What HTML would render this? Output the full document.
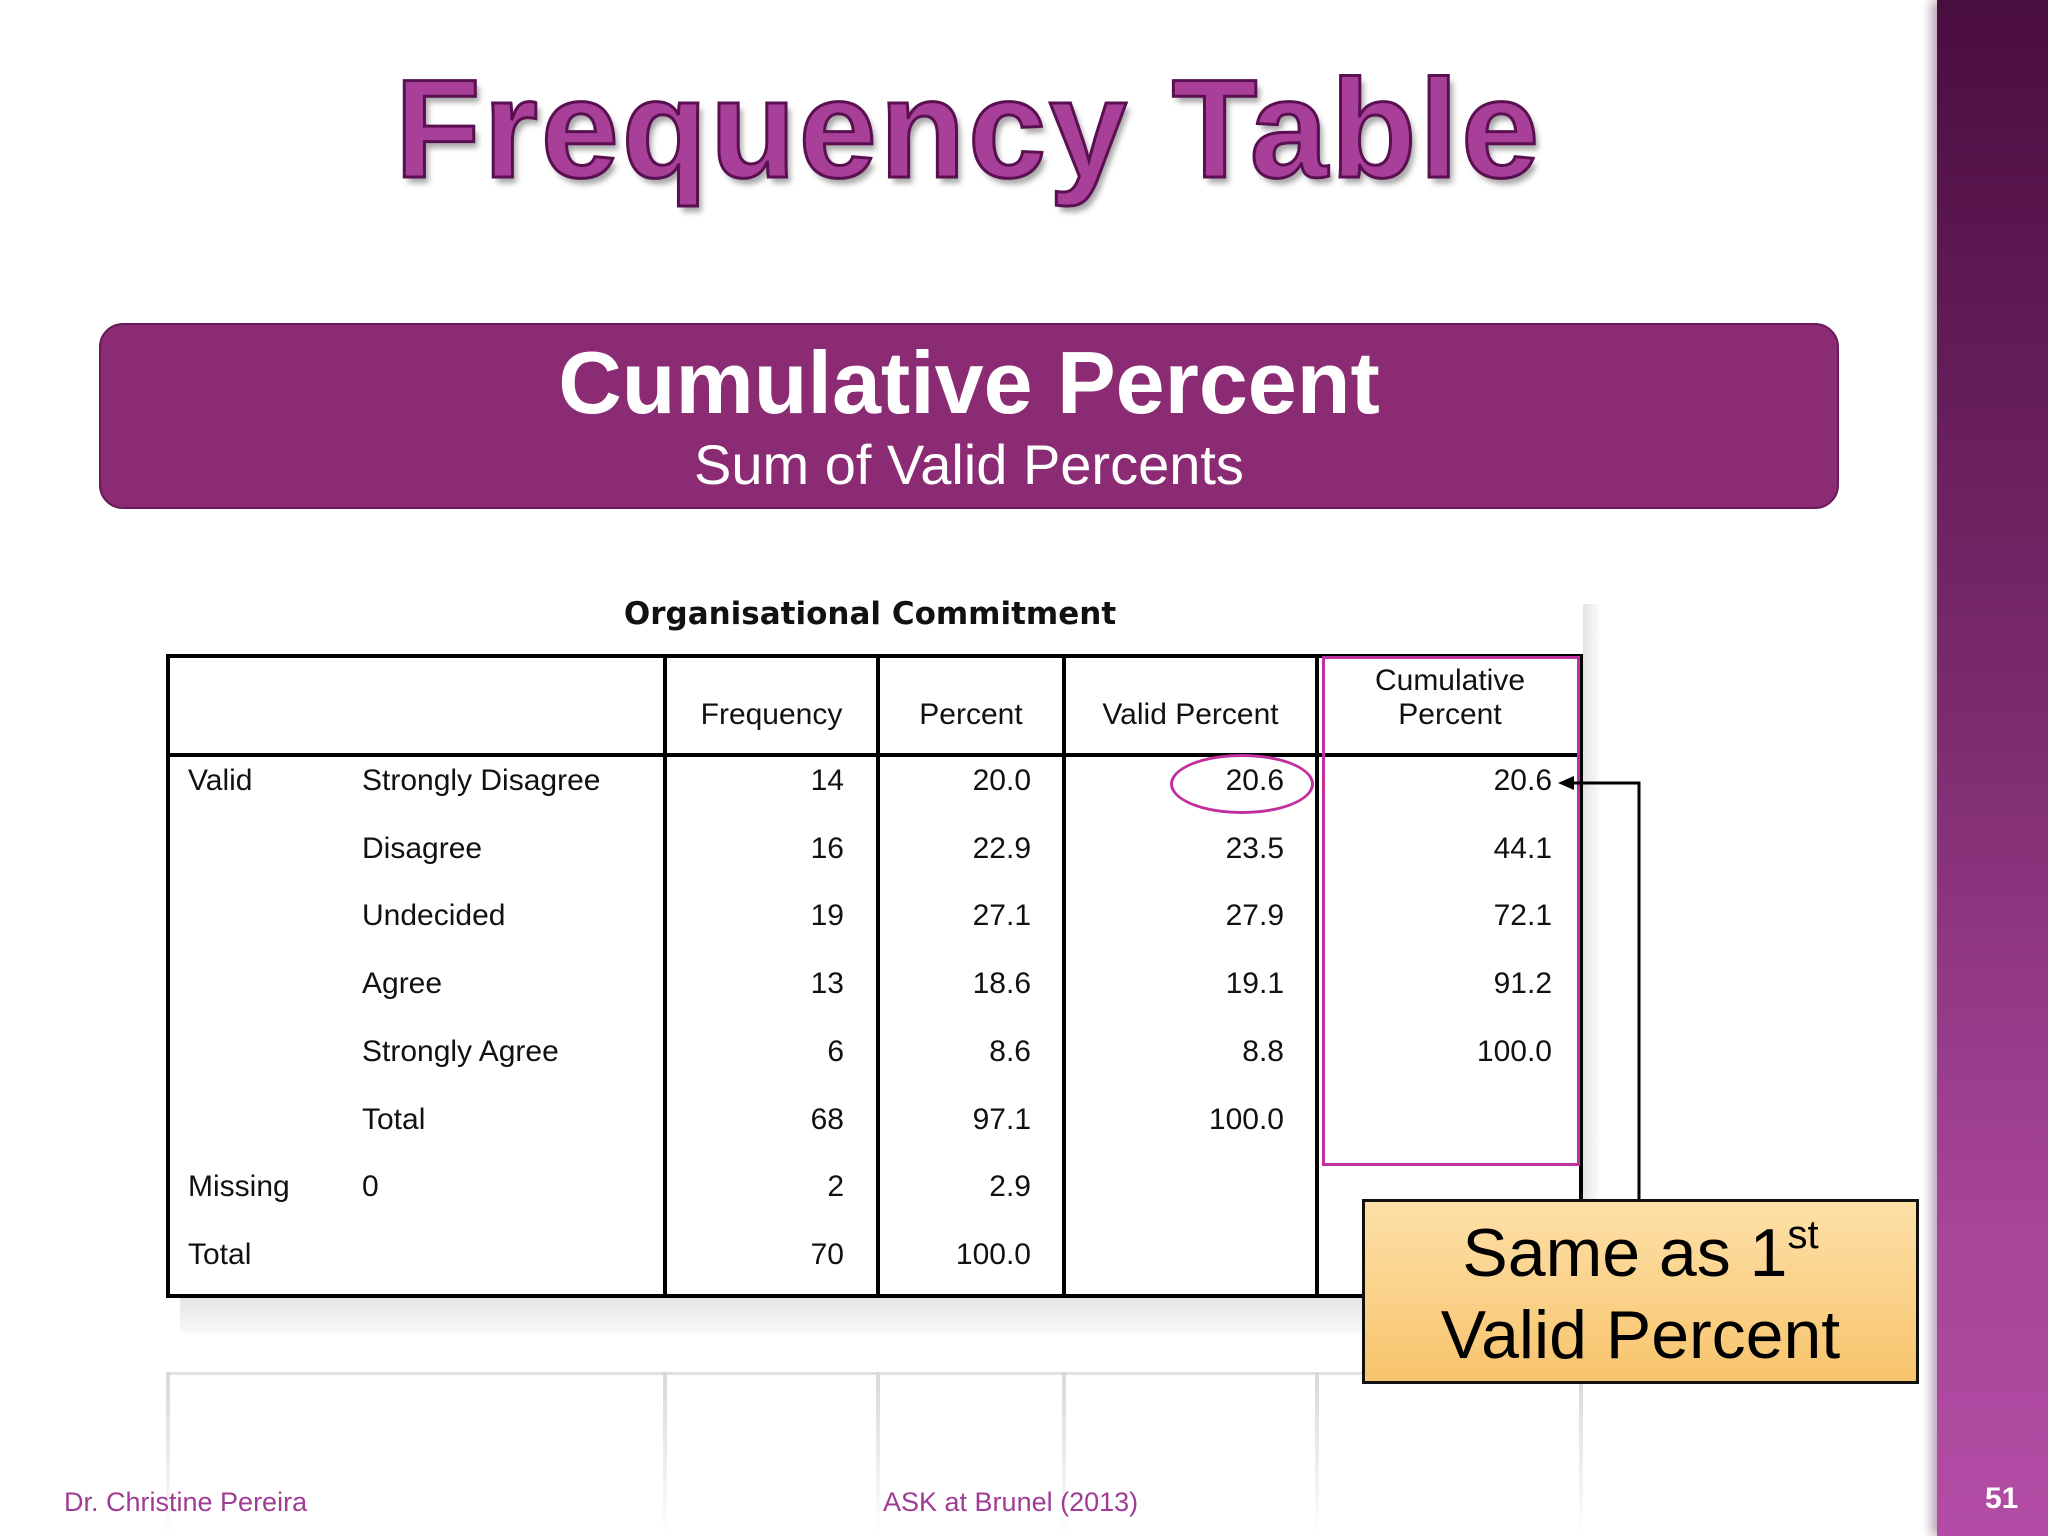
<!DOCTYPE html>
<html style="margin:0;overflow:hidden"><head><meta charset="utf-8"><style>
body{margin:0;width:2048px;height:1536px;overflow:hidden;background:#fff;font-family:"Liberation Sans",sans-serif}
#page{position:relative;width:2048px;height:1536px;overflow:hidden;background:#fff}
.abs{position:absolute}
#bar{left:1937px;top:0;width:111px;height:1536px;background:linear-gradient(180deg,#4a0d40 0%,#7a2a6c 45%,#a8449a 80%,#b24ca4 100%);box-shadow:-6px 0 10px rgba(60,0,50,.35)}
#title{left:0;width:1937px;top:48px;text-align:center;font-size:140px;font-weight:bold;color:#a8409a;-webkit-text-stroke:3px #5a1050;text-shadow:4px 6px 6px rgba(0,0,0,.35);letter-spacing:3px}
#banner{left:99px;top:323px;width:1740px;height:186px;background:#8a2b74;border:2px solid #6a1a58;border-radius:24px;box-sizing:border-box;color:#fff;text-align:center}
.t{font-size:30px;color:#111;white-space:nowrap}
.r{text-align:right}
.vl{background:#000}
</style></head><body>
<div id="page">
<div id="bar" class="abs"></div>
<div class="abs" style="left:1985px;top:1482px;color:#fff;font-weight:bold;font-size:30px">51</div>
<div id="title" class="abs">Frequency Table</div>
<div id="banner" class="abs">
 <div style="font-size:88px;font-weight:bold;margin-top:8px;line-height:100px">Cumulative Percent</div>
 <div style="font-size:56px;line-height:64px">Sum of Valid Percents</div>
</div>
<div class="abs" style="left:570px;width:600px;top:596px;text-align:center;font-family:'DejaVu Sans',sans-serif;font-weight:bold;font-size:31px;color:#111">Organisational Commitment</div>
<div class="abs" style="left:1583px;top:604px;width:16px;height:730px;background:linear-gradient(90deg,#e4e4e4,#fafafa)"></div>
<div class="abs" style="left:180px;top:1298px;width:1419px;height:36px;background:linear-gradient(180deg,#e4e4e4,#fafafa)"></div>
<svg class="abs" style="left:0;top:1336px" width="2048" height="200">
<defs><linearGradient id="fg" x1="0" y1="0" x2="0" y2="1"><stop offset="0" stop-color="#d8d8d8"/><stop offset="1" stop-color="#fff"/></linearGradient></defs>
<rect x="166" y="36" width="1417" height="3" fill="#e0e0e0"/>
<g fill="url(#fg)">
<rect x="166" y="36" width="4" height="164"/><rect x="663" y="36" width="4" height="164"/><rect x="876" y="36" width="4" height="164"/><rect x="1062" y="36" width="4" height="164"/><rect x="1315" y="36" width="4" height="164"/><rect x="1579" y="36" width="4" height="164"/>
</g>
</svg>
<div id="tbl" class="abs" style="left:0;top:0"></div>
<div class="abs" style="left:1322px;top:656px;width:258px;height:510px;border:3px solid #c0309e;box-sizing:border-box"></div>
<div class="abs" style="left:1170px;top:754px;width:144px;height:60px;border:3px solid #c0309e;border-radius:50%;box-sizing:border-box"></div>
<svg class="abs" style="left:0;top:0" width="2048" height="1536">
<polyline points="1639,1199 1639,783 1572,783" fill="none" stroke="#000" stroke-width="3"/>
<polygon points="1558,783 1574,776 1574,790" fill="#000"/>
</svg>
<div class="abs" style="left:1362px;top:1199px;width:557px;height:185px;border:3px solid #111;box-sizing:border-box;background:linear-gradient(180deg,#fde0a8,#f8c46c);text-align:center;font-size:68px;line-height:82px;color:#000;padding-top:10px">Same as 1<sup style="font-size:40px;line-height:0;vertical-align:28px">st</sup><br>Valid Percent</div>
<div class="abs" style="left:64px;top:1487px;font-size:27px;color:#a03c96">Dr. Christine Pereira</div>
<div class="abs" style="left:883px;top:1487px;font-size:27px;color:#a03c96">ASK at Brunel (2013)</div>
</div>
<script>
const groups=["Valid","","","","","","Missing","Total"];
const labels=["Strongly Disagree","Disagree","Undecided","Agree","Strongly Agree","Total","0",""];
const frequency=["14","16","19","13","6","68","2","70"];
const percent=["20.0","22.9","27.1","18.6","8.6","97.1","2.9","100.0"];
const validPercent=["20.6","23.5","27.9","19.1","8.8","100.0","",""];
const cumulativePercent=["20.6","44.1","72.1","91.2","100.0","","",""];
const headers=["Frequency","Percent","Valid Percent","Cumulative<br>Percent"];
function build(root){
 const L=166,R=1583,T=654,B=1298,H=755;
 const cols=[665,878,1064,1317];
 const rights=[844,1031,1284,1552];
 const rowY=i=>782+i*67.7;
 function box(x,y,w,h,name){const d=document.createElement('div');d.className='abs vl';d.style.cssText+=`left:${x}px;top:${y}px;width:${w}px;height:${h}px`;
 
 
 root.appendChild(d);}
 box(L,T,R-L,4,'table-top-border');box(L,B-4,R-L,4,'table-bottom-border');box(L,T,4,B-T,'table-left-border');box(R-4,T,4,B-T,'table-right-border');
 box(L,H-2,R-L,4,'header-rule');
 cols.forEach((c,i)=>box(c-2,T,4,B-T,'column-rule'));
 function txt(s,x,y,right,name,cw){const d=document.createElement('div');d.className='abs t'+(right?' r':'');
 d.innerHTML=s;
 if(right){d.style.left=(x-300)+'px';d.style.width='300px';}else{d.style.left=x+'px';}
 if(cw){d.style.left=x+'px';d.style.width=cw+'px';d.style.textAlign='center';d.style.lineHeight='34px';}
 d.style.top=(y-18)+'px';
 
 
 root.appendChild(d);}
 const hx=[[665,878],[878,1064],[1064,1317],[1317,1583]];
 headers.forEach((h,i)=>txt(h,hx[i][0],i==3?682:716,false,'column-header',hx[i][1]-hx[i][0]));
 groups.forEach((g,i)=>{const y=rowY(i);
  if(g)txt(g,188,y,false,'row-group-label');
  if(labels[i])txt(labels[i],362,y,false,'row-label');
  txt(frequency[i],rights[0],y,true,'frequency-value');
  txt(percent[i],rights[1],y,true,'percent-value');
  if(validPercent[i])txt(validPercent[i],rights[2],y,true,'valid-percent-value');
  if(cumulativePercent[i])txt(cumulativePercent[i],rights[3],y,true,'cumulative-percent-value');
 });
}
build(document.getElementById('tbl'));
</script>
</body></html>
